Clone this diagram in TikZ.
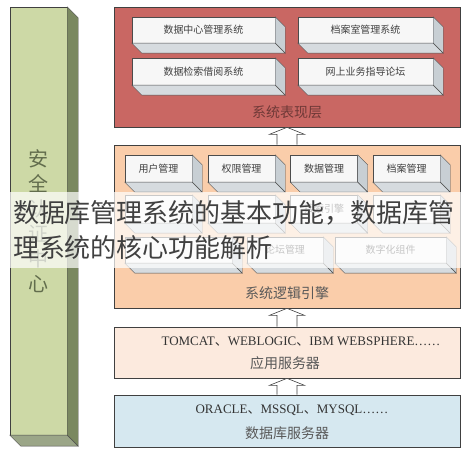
\documentclass[tikz,border=0pt]{standalone}
\usepackage{fontspec}
\setmainfont{Liberation Serif}
\newfontfamily\cjk{Noto Sans CJK SC}
\usetikzlibrary{positioning}

\definecolor{presentred}{RGB}{201,103,99}
\definecolor{logicpeach}{RGB}{250,205,170}
\definecolor{apppeach}{RGB}{252,234,222}
\definecolor{dbblue}{RGB}{214,232,240}
\definecolor{secgreen}{RGB}{205,217,166}
\definecolor{secdark}{RGB}{122,136,96}
\definecolor{sideface}{RGB}{200,207,212}

% side and bottom faces of a slab
\newcommand\extrude[3][10]{%
  \filldraw[draw=black!70,fill=#3] (#2.north east) -- ++(#1,-#1)
     -- ([shift={(#1,-#1)}]#2.south east) -- (#2.south east) -- cycle;
  \filldraw[draw=black!70,fill=#3!75!white] (#2.south west) -- ++(#1,-#1)
     -- ([shift={(#1,-#1)}]#2.south east) -- (#2.south east) -- cycle;}

% hollow block arrow from the top of #1 up to the bottom of #2
\newcommand\blockarrow[2]{%
  \filldraw[draw=black!75,fill=white,line width=0.6pt]
     ([xshift=-10]#1.north) -- ([xshift=-10,yshift=-7]#2.south)
     -- ([xshift=-17.5,yshift=-7]#2.south) -- (#2.south)
     -- ([xshift=17.5,yshift=-7]#2.south) -- ([xshift=10,yshift=-7]#2.south)
     -- ([xshift=10]#1.north);}

\begin{document}
\begin{tikzpicture}[x=1pt,y=1pt,
  layer/.style={draw=black!75,line width=0.7pt,inner sep=0pt,minimum width=346},
  slab/.style={draw=black!70,fill=black!3,inner sep=0pt,text=black!75,
               font=\cjk\fontsize{10}{12}\selectfont},
  title/.style={font=\cjk\fontsize{14}{16}\selectfont},
  servers/.style={font=\fontsize{13}{15}\selectfont,text=black!80}]
  \useasboundingbox (0,0) rectangle (467,452);

  % security centre
  \node[draw=black!75,fill=secgreen,minimum width=57,minimum height=428,inner sep=0pt,
        align=center,text=secdark!80!black,font=\cjk\fontsize{20}{25}\selectfont]
        (sec) at (38.5,231) {安\\全\\认\\证\\中\\心};
  \extrude[11]{sec}{secdark}

  % layers
  \node[layer,fill=presentred,minimum height=120] (present) at (287,385) {};
  \node[layer,fill=logicpeach,minimum height=163] (logic)   at (287,225.5) {};
  \node[layer,fill=apppeach,minimum height=51]    (app)     at (287,99.5) {};
  \node[layer,fill=dbblue,minimum height=52]      (db)      at (287,31) {};
  \blockarrow{logic}{present}
  \blockarrow{app}{logic}
  \blockarrow{db}{app}

  % presentation layer
  \node[slab,minimum width=143,minimum height=26] (dcms) at (203.5,422) {数据中心管理系统};
  \node[slab,minimum width=135,minimum height=26] (arms) at (365.5,422) {档案室管理系统};
  \node[slab,minimum width=143,minimum height=27] (dsbs) at (203.5,380.5) {数据检索借阅系统};
  \node[slab,minimum width=135,minimum height=27] (oguf) at (365.5,380.5) {网上业务指导论坛};
  \foreach \n in {dcms,arms,dsbs,oguf} {\extrude{\n}{sideface}}
  \node[title,text=presentred!55!black] (presentlbl) at (287,340) {系统表现层};

  % logic layer
  \node[slab,minimum width=67,minimum height=27] (user) at (158.5,283.5) {用户管理};
  \node[slab,minimum width=67,minimum height=27] (perm) at (241.5,283.5) {权限管理};
  \node[slab,minimum width=67,minimum height=27] (data) at (324,283.5)   {数据管理};
  \node[slab,minimum width=67,minimum height=27] (arch) at (406.5,283.5) {档案管理};
  \node[slab,minimum width=67,minimum height=28] (ra) at (158.5,243) {};
  \node[slab,minimum width=67,minimum height=28] (rb) at (241.5,243) {};
  \node[slab,minimum width=67,minimum height=28] (rc) at (324,243)   {搜索引擎};
  \node[slab,minimum width=67,minimum height=28] (rd) at (406.5,243) {};
  \node[slab,minimum width=107,minimum height=26] (sa) at (178.5,202) {};
  \node[slab,minimum width=76,minimum height=26]  (forum) at (285,202) {论坛管理};
  \node[slab,minimum width=111,minimum height=26] (digi) at (390.5,202) {数字化组件};
  \foreach \n in {user,perm,data,arch,ra,rb,rc,rd,sa,forum,digi} {\extrude{\n}{sideface}}
  \node[title,text=black!65] (logiclbl) at (287,159) {系统逻辑引擎};

  % servers
  \node[servers] (apps) at (301,110) {TOMCAT{\cjk 、}WEBLOGIC{\cjk 、}IBM WEBSPHERE……};
  \node[title,text=black!65] (applbl) at (285,89) {应用服务器};
  \node[servers] (dbs) at (292,42) {ORACLE{\cjk 、}MSSQL{\cjk 、}MYSQL……};
  \node[title,text=black!65] (dblbl) at (287,19) {数据库服务器};

  % caption band
  \node[fill=white,fill opacity=0.7,text opacity=1,inner xsep=3,inner ysep=0,
        minimum height=76,text width=447,align=left,text=black!75,
        font=\cjk\fontsize{26}{35}\selectfont] (band) at (236.5,222)
        {数据库管理系统的基本功能，数据库管\\理系统的核心功能解析};
\end{tikzpicture}
\end{document}
